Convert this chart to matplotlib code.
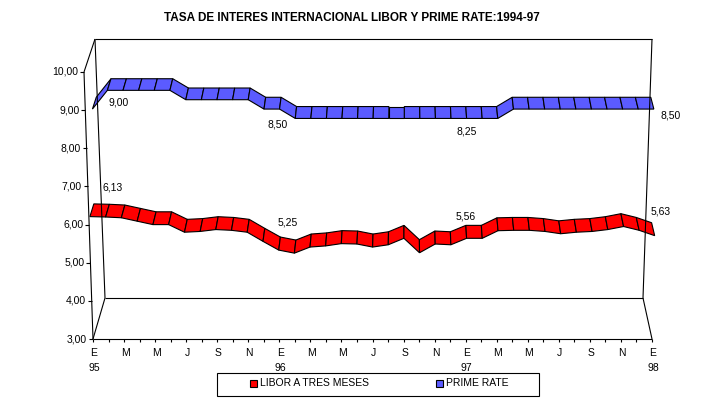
import numpy as np
import matplotlib.pyplot as plt
from matplotlib.patches import Polygon, Rectangle

plt.rcParams['font.family'] = ['Liberation Sans', 'DejaVu Sans']

# Datos mensuales: enero 1995 a enero 1998 (37 meses)
meses = ['E', 'M', 'M', 'J', 'S', 'N']
anios = ['95', '96', '97', '98']

libor = [6.13, 6.12, 6.10, 6.01, 5.92, 5.92, 5.72, 5.74, 5.79, 5.77, 5.72, 5.48,
         5.25, 5.17, 5.33, 5.36, 5.42, 5.41, 5.33, 5.39, 5.56, 5.18, 5.41, 5.39,
         5.56, 5.56, 5.76, 5.77, 5.77, 5.74, 5.68, 5.72, 5.74, 5.79, 5.87, 5.77,
         5.63]
prime = [8.50, 9.00, 9.00, 9.00, 9.00, 9.00, 8.75, 8.75, 8.75, 8.75, 8.75, 8.50,
         8.50, 8.25, 8.25, 8.25, 8.25, 8.25, 8.25, 8.25, 8.25, 8.25, 8.25, 8.25,
         8.25, 8.25, 8.25, 8.50, 8.50, 8.50, 8.50, 8.50, 8.50, 8.50, 8.50, 8.50,
         8.50]

idx_etiq = [0, 12, 24, 36]
etiq_libor = ['6,13', '5,25', '5,56', '5,63']
etiq_prime = ['9,00', '8,50', '8,25', '8,50']

ymin, ymax = 3, 10
n = len(libor)

# esquinas de la caja 3D en pixeles: (u, t, z) -> (x, y)
caja = {
    (0, 0, 0): (93, 339), (1, 0, 0): (652, 339),
    (0, 1, 0): (84, 72), (1, 1, 0): (661, 72),
    (0, 0, 1): (105, 298), (1, 0, 1): (643, 298),
    (0, 1, 1): (95, 39), (1, 1, 1): (652, 39),
}


def proj(i, v, z):
    u = i / (n - 1)
    t = (v - ymin) / (ymax - ymin)
    x = y = 0.0
    for (a, b, c), (px, py) in caja.items():
        w = (u if a else 1 - u) * (t if b else 1 - t) * (z if c else 1 - z)
        x += w * px
        y += w * py
    return x, y


fig = plt.figure(figsize=(7.1, 3.99), dpi=100)
ax = fig.add_axes([0, 0, 1, 1])
ax.set_xlim(0, 710)
ax.set_ylim(399, 0)
ax.axis('off')

lw = 0.8
fs = 7.5


def linea(p, q):
    ax.plot([p[0], q[0]], [p[1], q[1]], color='black', lw=lw, solid_capstyle='butt')


# paredes y piso
FLB, FRB = proj(0, 3, 0), proj(n - 1, 3, 0)
FLT = proj(0, 10, 0)
BLB, BRB = proj(0, 3, 1), proj(n - 1, 3, 1)
BLT, BRT = proj(0, 10, 1), proj(n - 1, 10, 1)
for p, q in [(BLT, BRT), (BRT, BRB), (BRB, BLB), (BLB, BLT),
             (FLT, BLT), (FLB, BLB), (FLT, FLB), (FLB, FRB), (FRB, BRB)]:
    linea(p, q)

# eje de valores
for v in range(ymin, ymax + 1):
    x, y = proj(0, v, 0)
    linea((x - 4, y), (x, y))
    ax.text(x - 6, y, f'{v},00', ha='right', va='center', fontsize=fs)

# eje de categorias
for i in range(n):
    x, y = proj(i, 3, 0)
    linea((x, y), (x, y + 3))
    if i % 2 == 0:
        ax.text(x + 1, y + 14, meses[(i // 2) % 6], ha='center', va='center', fontsize=fs)
    if i % 12 == 0:
        ax.text(x + 1, y + 29, anios[i // 12], ha='center', va='center', fontsize=fs)


def cinta(valores, z0, z1, color):
    for i in range(n - 1):
        pts = [proj(i, valores[i], z0), proj(i + 1, valores[i + 1], z0),
               proj(i + 1, valores[i + 1], z1), proj(i, valores[i], z1)]
        ax.add_patch(Polygon(pts, closed=True, facecolor=color,
                             edgecolor='black', lw=lw, joinstyle='miter'))


cinta(prime, 0.58, 0.92, '#5b5bff')
cinta(libor, 0.08, 0.42, '#ff0000')

# etiquetas de datos
off_libor = [(21, -23), (8, -21), (-1, -15), (8, -18)]
off_prime = [(25, 18), (-3, 21), (0, 19), (18, 12)]
for i, txt, (dx, dy) in zip(idx_etiq, etiq_libor, off_libor):
    x, y = proj(i, float(txt.replace(',', '.')), 0.25)
    ax.text(x + dx, y + dy, txt, ha='center', va='center', fontsize=fs)
for i, txt, (dx, dy) in zip(idx_etiq, etiq_prime, off_prime):
    x, y = proj(i, float(txt.replace(',', '.')), 0.75)
    ax.text(x + dx, y + dy, txt, ha='center', va='center', fontsize=fs)

ax.text(352, 18, 'TASA DE INTERES INTERNACIONAL LIBOR Y PRIME RATE:1994-97',
        ha='center', va='center', fontsize=8.5, fontweight='bold')

# leyenda
ax.add_patch(Rectangle((217, 373), 322, 23, facecolor='white', edgecolor='black', lw=lw))
for (mx, color, nombre) in [(249.5, '#ff0000', 'LIBOR A TRES MESES'),
                            (436, '#5b5bff', 'PRIME RATE')]:
    ax.add_patch(Rectangle((mx, 380), 7, 7, facecolor=color, edgecolor='black', lw=lw))
    ax.text(mx + 10, 383.5, nombre, ha='left', va='center', fontsize=fs)

fig.savefig('out.png', dpi=100)
